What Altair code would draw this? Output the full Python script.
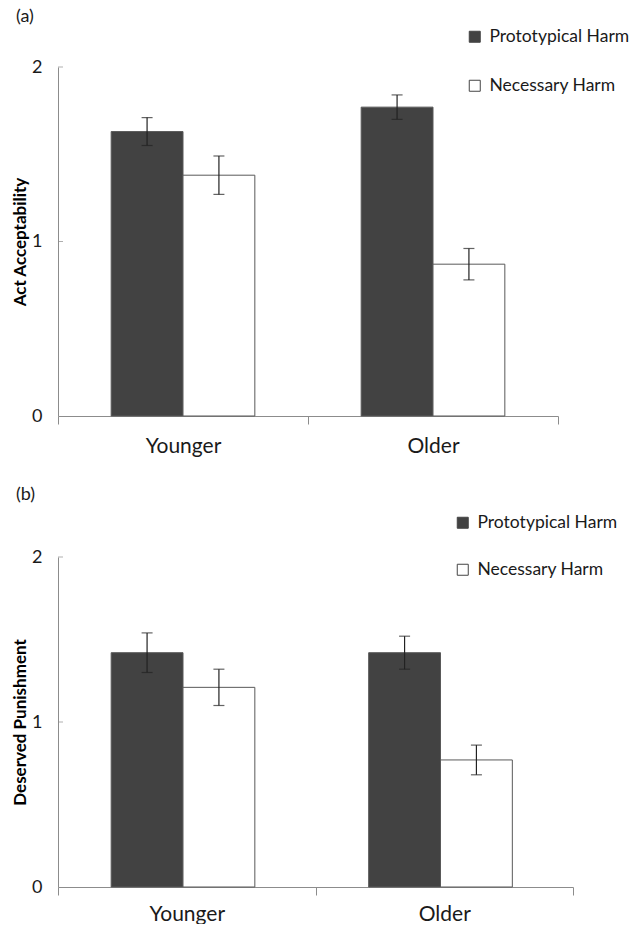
import altair as alt
import pandas as pd

categories = ["Younger", "Older"]
series = ["Prototypical Harm", "Necessary Harm"]

a_proto = [1.63, 1.77]
a_proto_err = [0.08, 0.07]
a_nec = [1.38, 0.87]
a_nec_err = [0.11, 0.09]

b_proto = [1.42, 1.42]
b_proto_err = [0.12, 0.10]
b_nec = [1.21, 0.77]
b_nec_err = [0.11, 0.09]

y_ticks = [0, 1, 2]

FONT = "Lato"
AXIS_GRAY = "#8c8c8c"


def make_df(proto, proto_err, nec, nec_err):
    rows = []
    for i, c in enumerate(categories):
        rows.append(dict(group=c, cond=series[0], mean=proto[i], err=proto_err[i]))
        rows.append(dict(group=c, cond=series[1], mean=nec[i], err=nec_err[i]))
    df = pd.DataFrame(rows)
    df["lo"] = df["mean"] - df["err"]
    df["hi"] = df["mean"] + df["err"]
    return df


def panel(df, ytitle, letter, width, height, legx, legy, rowpad, letter_y, xlab_pad):
    x = alt.X(
        "group:N", sort=categories, title=None,
        scale=alt.Scale(paddingInner=0, paddingOuter=0),
        axis=alt.Axis(labelAngle=0, tickBand="extent", ticks=True, tickSize=8,
                      domainColor=AXIS_GRAY, tickColor=AXIS_GRAY, labelFontSize=21,
                      labelColor="#1a1a1a", labelPadding=xlab_pad, labelFont=FONT, grid=False),
    )
    xo = alt.XOffset("cond:N", sort=series,
                     scale=alt.Scale(paddingOuter=0.74, paddingInner=0))
    y = alt.Y(
        "mean:Q", scale=alt.Scale(domain=[0, 2]),
        axis=alt.Axis(values=y_ticks, title=ytitle, ticks=False,
                      labelExpr="format(datum.value, '.0f')",
                      labelOverlap=False, labelBound=False, labelFlush=False,
                      domainColor=AXIS_GRAY, labelFontSize=18, labelFont=FONT,
                      labelColor="#1a1a1a", labelPadding=16, grid=False,
                      titleFont=FONT, titleFontSize=17, titleFontWeight="bold",
                      titleColor="#000000", titlePadding=2),
    )
    bars = alt.Chart(df).mark_bar(stroke="#595959", strokeWidth=1).encode(
        x=x, xOffset=xo, y=y,
        fill=alt.Fill("cond:N", sort=series,
                      scale=alt.Scale(domain=series, range=["#424242", "#ffffff"]),
                      legend=alt.Legend(title=None, orient="none", legendX=legx, legendY=legy,
                                        padding=0,
                                        symbolType="square", symbolSize=121,
                                        symbolStrokeColor="#444444", symbolStrokeWidth=1,
                                        labelFont=FONT, labelFontSize=17.5, labelColor="#1a1a1a",
                                        labelOffset=6, rowPadding=rowpad, labelLimit=300)),
    )
    stems = alt.Chart(df).mark_rule(color="#222222", strokeWidth=1.2).encode(
        x=x, xOffset=xo, y="lo:Q", y2="hi:Q")
    caps_hi = alt.Chart(df).mark_tick(color="#222222", thickness=1.2, size=11).encode(
        x=x, xOffset=xo, y="hi:Q")
    caps_lo = alt.Chart(df).mark_tick(color="#222222", thickness=1.2, size=11).encode(
        x=x, xOffset=xo, y="lo:Q")
    inner_ticks = alt.Chart(pd.DataFrame({"mean": y_ticks[1:]})).mark_tick(
        color=AXIS_GRAY, thickness=1, size=5).encode(y=y, x=alt.value(2.5))
    label = alt.Chart(pd.DataFrame({"t": [letter]})).mark_text(
        font=FONT, fontSize=18, color="#1a1a1a", align="left", baseline="middle").encode(
        text="t:N", x=alt.value(-42), y=alt.value(letter_y))
    return alt.layer(bars, stems, caps_lo, caps_hi, inner_ticks, label).properties(
        width=width, height=height)


df_a = make_df(a_proto, a_proto_err, a_nec, a_nec_err)
df_b = make_df(b_proto, b_proto_err, b_nec, b_nec_err)

top = panel(df_a, "Act Acceptability", "(a)", 500, 349, 408, -39, 30, -50, 11)
bottom = panel(df_b, "Deserved Punishment", "(b)", 515, 330, 396, -43, 28, -62, 8)

chart = alt.vconcat(top, bottom, spacing=30).resolve_scale(fill="independent").configure_view(
    stroke="transparent", strokeWidth=0).properties(
    padding={"left": 3, "top": 0, "right": 0, "bottom": 0}, background="white")

chart.save("out.html", embed_options={"renderer": "svg", "actions": False})
